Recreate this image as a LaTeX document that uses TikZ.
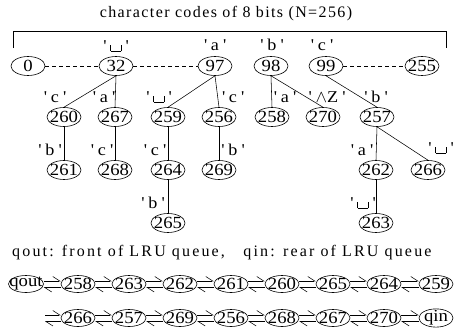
\documentclass[tikz,border=0pt]{standalone}
\usepackage{fontspec}
\setmainfont{Liberation Serif}
\newfontfamily\spaced[LetterSpace=8.7]{Liberation Serif}
\newfontfamily\spacedwide[LetterSpace=13.5]{Liberation Serif}
\newfontfamily\widefont[FakeStretch=1.1]{Liberation Serif}
\usetikzlibrary{shapes.geometric,arrows.meta}

% character labels: quoted letters, and the visible blank
\newcommand\qq{\textquotesingle}
\newcommand\blankchar{\leavevmode\vrule height 6pt width .6pt\vrule height .6pt width 10pt\vrule height 6pt width .6pt}
\newcommand\chr[1]{\qq\kern4pt#1\kern4pt\qq}
% a pair of opposite harpoons between two queue cells
\newcommand\qlink[2]{%
  \draw[harp] ([yshift=3pt]#1.east) -- ([yshift=3pt]#2.west);
  \draw[harp] ([yshift=-3.5pt]#2.west) -- ([yshift=-3.5pt]#1.east);}

\tikzset{
  code/.style={ellipse, draw, line width=.6pt, inner xsep=-5pt, inner ysep=-1pt,
    minimum width=34pt, minimum height=19pt, font=\fontsize{17}{17}\widefont},
  qcell/.style={code, minimum height=17pt},
  lbl/.style={inner sep=0pt, font=\fontsize{16.5}{16.5}\widefont},
  txt/.style={inner sep=0pt, font=\fontsize{16}{16}\spaced},
  edge/.style={line width=.55pt},
  dotted link/.style={line width=.6pt, dash pattern=on 4pt off 3pt},
  harp/.style={line width=.55pt, -{Straight Barb[left,length=7pt,width=9pt]}}
}

\begin{document}
\begin{tikzpicture}[x=1pt,y=-1pt]
\useasboundingbox (0,0) rectangle (467,335);

% heading and the bracket spanning all codes
\node[txt] (title) at (226,14) {character codes of 8 bits (N=256)};
\coordinate (bl) at (13,48);
\coordinate (tl) at (13,31);
\coordinate (tr) at (446,31);
\coordinate (br) at (446,48);
\draw[line width=.7pt] (bl) -- (tl) -- (tr) -- (br);

% first level: the 256 single-character codes
\node[code] (n0)   at (28,66)  {0};
\node[code] (n32)  at (116,66) {32};
\node[code] (n97)  at (215,66) {97};
\node[code] (n98)  at (271,66) {98};
\node[code] (n99)  at (326,66) {99};
\node[code] (n255) at (422,66) {255};
\draw[dotted link] (n0) -- (n32);
\draw[dotted link] (n32) -- (n97);
\draw[dotted link] (n99) -- (n255);

\node[lbl] (l32) at (116,46) {\chr{\blankchar}};
\node[lbl] (l97) at (215,45) {\chr{a}};
\node[lbl] (l98) at (272,45) {\chr{b}};
\node[lbl] (l99) at (322,45) {\chr{c}};

% second level
\node[code] (n260) at (64,117)  {260};
\node[code] (n267) at (115,117) {267};
\node[code] (n259) at (168,117) {259};
\node[code] (n256) at (219,117) {256};
\node[code] (n258) at (272,117) {258};
\node[code] (n270) at (323,117) {270};
\node[code] (n257) at (377,117) {257};
\draw[edge] (n32.south) -- (n260.north);
\draw[edge] (n32.south) -- (n267.north);
\draw[edge] (n97.south) -- (n259.north);
\draw[edge] (n97.south) -- (n256.north);
\draw[edge] (n98.south) -- (n258.north);
\draw[edge] (n98.south) -- (n270.north);
\draw[edge] (n99.south) -- (n257.north);

\node[lbl] (la1) at (55,97)  {\chr{c}};
\node[lbl] (la2) at (104,97) {\chr{a}};
\node[lbl] (la3) at (159,97) {\chr{\blankchar}};
\node[lbl] (la4) at (233,97) {\chr{c}};
\node[lbl] (la5) at (285,97) {\chr{a}};
\node[lbl] (la6) at (327,97) {\chr{$\wedge$Z}};
\node[lbl] (la7) at (376,97) {\chr{b}};

% third level
\node[code] (n261) at (64,170)  {261};
\node[code] (n268) at (115,170) {268};
\node[code] (n264) at (168,170) {264};
\node[code] (n269) at (219,170) {269};
\node[code] (n262) at (376,170) {262};
\node[code] (n266) at (428,170) {266};
\draw[edge] (n260) -- (n261);
\draw[edge] (n267) -- (n268);
\draw[edge] (n259) -- (n264);
\draw[edge] (n256) -- (n269);
\draw[edge] (n257.south) -- (n262.north);
\draw[edge] (n257.south) -- (n266.north);

\node[lbl] (lb1) at (50,150)  {\chr{b}};
\node[lbl] (lb2) at (102,150) {\chr{c}};
\node[lbl] (lb3) at (155,150) {\chr{c}};
\node[lbl] (lb4) at (233,150) {\chr{b}};
\node[lbl] (lb5) at (362,150) {\chr{a}};
\node[lbl] (lb6) at (441,148) {\chr{\blankchar}};

% fourth level
\node[code] (n265) at (168,223) {265};
\node[code] (n263) at (376,223) {263};
\draw[edge] (n264) -- (n265);
\draw[edge] (n262) -- (n263);

\node[lbl] (lc1) at (153,203) {\chr{b}};
\node[lbl] (lc2) at (363,203) {\chr{\blankchar}};

% the LRU queue
\node[txt, font=\fontsize{16}{16}\spacedwide, anchor=west] (qtext) at (12,253)
  {qout: front of LRU queue,\ \ \ qin: rear of LRU queue};

\node[qcell, minimum width=35pt] (qout) at (26,284) {qout};
\node[qcell] (qa1) at (78,284)  {258};
\node[qcell] (qa2) at (129,284) {263};
\node[qcell] (qa3) at (180,284) {262};
\node[qcell] (qa4) at (231,284) {261};
\node[qcell] (qa5) at (282,284) {260};
\node[qcell] (qa6) at (333,284) {265};
\node[qcell] (qa7) at (384,284) {264};
\node[qcell] (qa8) at (436,284) {259};

\coordinate (qs) at (45,318);
\node[qcell] (qb1) at (78,318)  {266};
\node[qcell] (qb2) at (129,318) {257};
\node[qcell] (qb3) at (180,318) {269};
\node[qcell] (qb4) at (231,318) {256};
\node[qcell] (qb5) at (282,318) {268};
\node[qcell] (qb6) at (333,318) {267};
\node[qcell] (qb7) at (384,318) {270};
\node[qcell] (qin) at (436,318) {qin};

\qlink{qout}{qa1}
\qlink{qa1}{qa2}
\qlink{qa2}{qa3}
\qlink{qa3}{qa4}
\qlink{qa4}{qa5}
\qlink{qa5}{qa6}
\qlink{qa6}{qa7}
\qlink{qa7}{qa8}
\qlink{qs}{qb1}
\qlink{qb1}{qb2}
\qlink{qb2}{qb3}
\qlink{qb3}{qb4}
\qlink{qb4}{qb5}
\qlink{qb5}{qb6}
\qlink{qb6}{qb7}
\qlink{qb7}{qin}
\end{tikzpicture}
\end{document}
